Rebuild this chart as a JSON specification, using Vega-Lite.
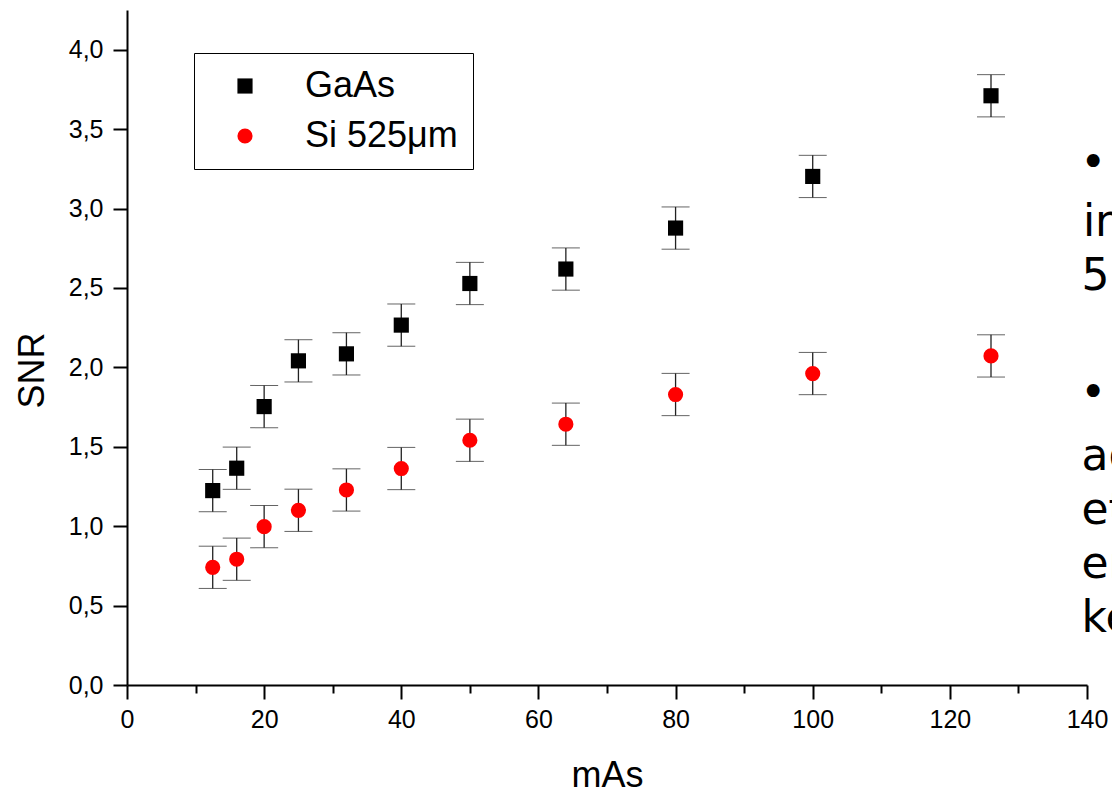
{
  "$schema": "https://vega.github.io/schema/vega-lite/v6.json",
  "width": 960,
  "height": 675,
  "autosize": {"type": "none"},
  "padding": {"left": 127, "top": 10, "right": 25, "bottom": 104},
  "background": "white",
  "config": {
    "view": {"stroke": null},
    "font": "Liberation Sans",
    "axis": {
      "domainColor": "black",
      "domainWidth": 2,
      "tickColor": "black",
      "tickWidth": 2,
      "grid": false,
      "labelFlush": false,
      "labelOverlap": false,
      "labelColor": "black",
      "labelFont": "Liberation Sans",
      "labelFontSize": 25,
      "titleFont": "Liberation Sans",
      "titleFontSize": 36,
      "titleFontWeight": "normal",
      "titleColor": "black"
    }
  },
  "datasets": {
    "snr": [
      {"mAs": 12.5, "SNR": 1.224, "lo": 1.091, "hi": 1.357, "series": "GaAs"},
      {"mAs": 16, "SNR": 1.365, "lo": 1.232, "hi": 1.498, "series": "GaAs"},
      {"mAs": 20, "SNR": 1.753, "lo": 1.620, "hi": 1.886, "series": "GaAs"},
      {"mAs": 25, "SNR": 2.041, "lo": 1.908, "hi": 2.174, "series": "GaAs"},
      {"mAs": 32, "SNR": 2.085, "lo": 1.952, "hi": 2.218, "series": "GaAs"},
      {"mAs": 40, "SNR": 2.266, "lo": 2.133, "hi": 2.399, "series": "GaAs"},
      {"mAs": 50, "SNR": 2.528, "lo": 2.395, "hi": 2.661, "series": "GaAs"},
      {"mAs": 64, "SNR": 2.619, "lo": 2.486, "hi": 2.752, "series": "GaAs"},
      {"mAs": 80, "SNR": 2.877, "lo": 2.744, "hi": 3.010, "series": "GaAs"},
      {"mAs": 100, "SNR": 3.202, "lo": 3.069, "hi": 3.335, "series": "GaAs"},
      {"mAs": 126, "SNR": 3.710, "lo": 3.577, "hi": 3.843, "series": "GaAs"},
      {"mAs": 12.5, "SNR": 0.741, "lo": 0.608, "hi": 0.874, "series": "Si 525μm"},
      {"mAs": 16, "SNR": 0.792, "lo": 0.659, "hi": 0.925, "series": "Si 525μm"},
      {"mAs": 20, "SNR": 0.997, "lo": 0.864, "hi": 1.130, "series": "Si 525μm"},
      {"mAs": 25, "SNR": 1.100, "lo": 0.967, "hi": 1.233, "series": "Si 525μm"},
      {"mAs": 32, "SNR": 1.228, "lo": 1.095, "hi": 1.361, "series": "Si 525μm"},
      {"mAs": 40, "SNR": 1.363, "lo": 1.230, "hi": 1.496, "series": "Si 525μm"},
      {"mAs": 50, "SNR": 1.541, "lo": 1.408, "hi": 1.674, "series": "Si 525μm"},
      {"mAs": 64, "SNR": 1.642, "lo": 1.509, "hi": 1.775, "series": "Si 525μm"},
      {"mAs": 80, "SNR": 1.829, "lo": 1.696, "hi": 1.962, "series": "Si 525μm"},
      {"mAs": 100, "SNR": 1.961, "lo": 1.828, "hi": 2.094, "series": "Si 525μm"},
      {"mAs": 126, "SNR": 2.072, "lo": 1.939, "hi": 2.205, "series": "Si 525μm"}
    ],
    "slide": [
      {"mAs": 139.0, "SNR": 3.20, "t": "•"},
      {"mAs": 139.4, "SNR": 2.828, "t": "in"},
      {"mAs": 139.2, "SNR": 2.488, "t": "52"},
      {"mAs": 139.0, "SNR": 1.751, "t": "•"},
      {"mAs": 139.2, "SNR": 1.354, "t": "ag"},
      {"mAs": 139.2, "SNR": 1.014, "t": "et"},
      {"mAs": 139.2, "SNR": 0.674, "t": "en"},
      {"mAs": 139.2, "SNR": 0.334, "t": "ke"}
    ]
  },
  "layer": [
    {
      "data": {"name": "snr"},
      "mark": {"type": "errorbar", "ticks": {"size": 28, "color": "#222222", "strokeWidth": 1.3}, "rule": {"color": "#222222", "strokeWidth": 1.3}},
      "encoding": {
        "x": {
          "field": "mAs", "type": "quantitative",
          "scale": {"domain": [0, 140], "nice": false, "zero": false},
          "axis": {
            "title": "mAs",
            "values": [0, 10, 20, 30, 40, 50, 60, 70, 80, 90, 100, 110, 120, 130, 140],
            "labelExpr": "datum.value % 20 === 0 ? datum.label : ''",
            "tickSize": {"condition": {"test": "datum.value % 20 !== 0", "value": 8}, "value": 14},
            "labelPadding": 8,
            "titleY": 101,
            "titleBaseline": "alphabetic"
          }
        },
        "y": {
          "field": "lo", "type": "quantitative",
          "scale": {"domain": [0, 4.25], "nice": false, "zero": false},
          "axis": {
            "title": "SNR",
            "values": [0, 0.25, 0.5, 0.75, 1, 1.25, 1.5, 1.75, 2, 2.25, 2.5, 2.75, 3, 3.25, 3.5, 3.75, 4, 4.25],
            "labelExpr": "datum.value % 0.5 === 0 && datum.value <= 4 ? replace(format(datum.value, '.1f'), '.', ',') : ''",
            "tickSize": {"condition": {"test": "datum.value % 0.5 !== 0", "value": 8}, "value": 14},
            "labelPadding": 10,
            "titleX": -84,
            "titleY": 360,
            "titleBaseline": "alphabetic",
            "titleAlign": "center"
          }
        },
        "y2": {"field": "hi"},
        "detail": {"field": "series"}
      }
    },
    {
      "data": {"name": "snr"},
      "mark": {"type": "point", "filled": true, "opacity": 1, "size": 230, "strokeWidth": 0},
      "encoding": {
        "x": {"field": "mAs", "type": "quantitative"},
        "y": {"field": "SNR", "type": "quantitative"},
        "color": {
          "field": "series", "type": "nominal",
          "scale": {"domain": ["GaAs", "Si 525μm"], "range": ["#000000", "#ff0000"]},
          "legend": {
            "orient": "none", "legendX": 67, "legendY": 43, "title": null,
            "padding": 15, "strokeColor": "black", "fillColor": "white",
            "symbolSize": 230, "symbolOffset": 18, "labelOffset": 42,
            "labelFontSize": 36, "labelFont": "Liberation Sans", "labelColor": "black",
            "rowPadding": 14, "symbolStrokeWidth": 0, "labelLimit": 400
          }
        },
        "shape": {
          "field": "series", "type": "nominal",
          "scale": {"domain": ["GaAs", "Si 525μm"], "range": ["square", "circle"]}
        }
      }
    },
    {
      "data": {"name": "slide"},
      "mark": {"type": "text", "align": "left", "baseline": "alphabetic", "font": "DejaVu Sans", "fontSize": 44, "color": "black"},
      "encoding": {
        "x": {"field": "mAs", "type": "quantitative"},
        "y": {"field": "SNR", "type": "quantitative"},
        "text": {"field": "t"}
      }
    }
  ]
}
